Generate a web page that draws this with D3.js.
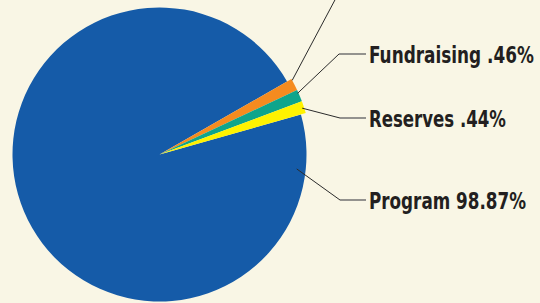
<!DOCTYPE html>
<html>
<head>
<meta charset="utf-8">
<script src="https://cdn.jsdelivr.net/npm/d3@7"></script>
<style>
  body { margin: 0; background: #f9f6e5; }
  svg { display: block; }
  .lbl { font-family: "Liberation Sans Narrow", "DejaVu Sans Condensed", "Liberation Sans", sans-serif;
         font-weight: bold; font-size: 23px; fill: #231f20; }
</style>
</head>
<body>
<div class="canvas"></div>
<script>
// data
var categories = ['Other', 'Fundraising', 'Reserves', 'Program']
var shares     = [0.23, 0.46, 0.44, 98.87]
var labels     = [null, 'Fundraising .46%', 'Reserves .44%', 'Program 98.87%']
var colors     = ['#f58b1f', '#0ea58c', '#fff200', '#155ba8']

var width = 540, height = 303
var center = {x: 159.5, y: 154.5}
var radius = 147
var min_share = 1.33   // tiny slices are drawn wider than true size, as in the original

var svg = d3.select('.canvas').append('svg')
    .attr('width', width).attr('height', height)

svg.append('rect').attr('width', width).attr('height', height).attr('fill', '#f9f6e5')

var deg = Math.PI / 180
var pie = d3.pie()
    .sort(null)
    .value(function(d) { return Math.max(d.share, min_share) })
    .startAngle(60.2 * deg)
    .endAngle(420.2 * deg)

var rows = categories.map(function(c, i) {
    return {name: c, share: shares[i], label: labels[i], color: colors[i]}
})
var arcs = pie(rows)

var g = svg.append('g').attr('transform', 'translate(' + center.x + ',' + center.y + ')')

// big slice first, small ones on top
var order = [3, 0, 1, 2]
order.forEach(function(i) {
    var a = arcs[i]
    var r = a.data.share < min_share ? radius + 5 : radius
    g.append('path')
        .attr('d', d3.arc().innerRadius(0).outerRadius(r)(a))
        .attr('fill', a.data.color)
})

// leader lines: start point (angle from 12 o'clock, radius), elbow, end of horizontal, label width
var leaders = [
    {i: 0, ang: 60.8, r: 152, elbow: [336, -2], end: null},
    {i: 1, ang: 66.1, r: 151, elbow: [339, 54], end: 366, w: 165},
    {i: 2, ang: 72.0, r: 150, elbow: [340, 118], end: 366, w: 137},
    {i: 3, ang: 96.0, r: 138, elbow: [340, 200], end: 366, w: 157}
]

leaders.forEach(function(l) {
    var x0 = center.x + l.r * Math.sin(l.ang * deg)
    var y0 = center.y - l.r * Math.cos(l.ang * deg)
    svg.append('line')
        .attr('x1', x0).attr('y1', y0)
        .attr('x2', l.elbow[0]).attr('y2', l.elbow[1])
        .attr('stroke', '#2b2b2b').attr('stroke-width', 1)
    if (l.end) {
        svg.append('line')
            .attr('x1', l.elbow[0]).attr('y1', l.elbow[1])
            .attr('x2', l.end).attr('y2', l.elbow[1])
            .attr('stroke', '#7a7a78').attr('stroke-width', 1.6)
    }
    var lab = arcs[l.i].data.label
    if (lab) {
        // squeeze the label horizontally to the condensed width of the original
        var t = svg.append('text')
            .attr('class', 'lbl')
            .attr('x', 0)
            .attr('y', 0)
            .text(lab)
        var k = l.w / t.node().getComputedTextLength()
        t.attr('transform', 'translate(' + (l.end + 3) + ',' + (l.elbow[1] + 9) + ') scale(' + k + ',1)')
    }
})
</script>
</body>
</html>
